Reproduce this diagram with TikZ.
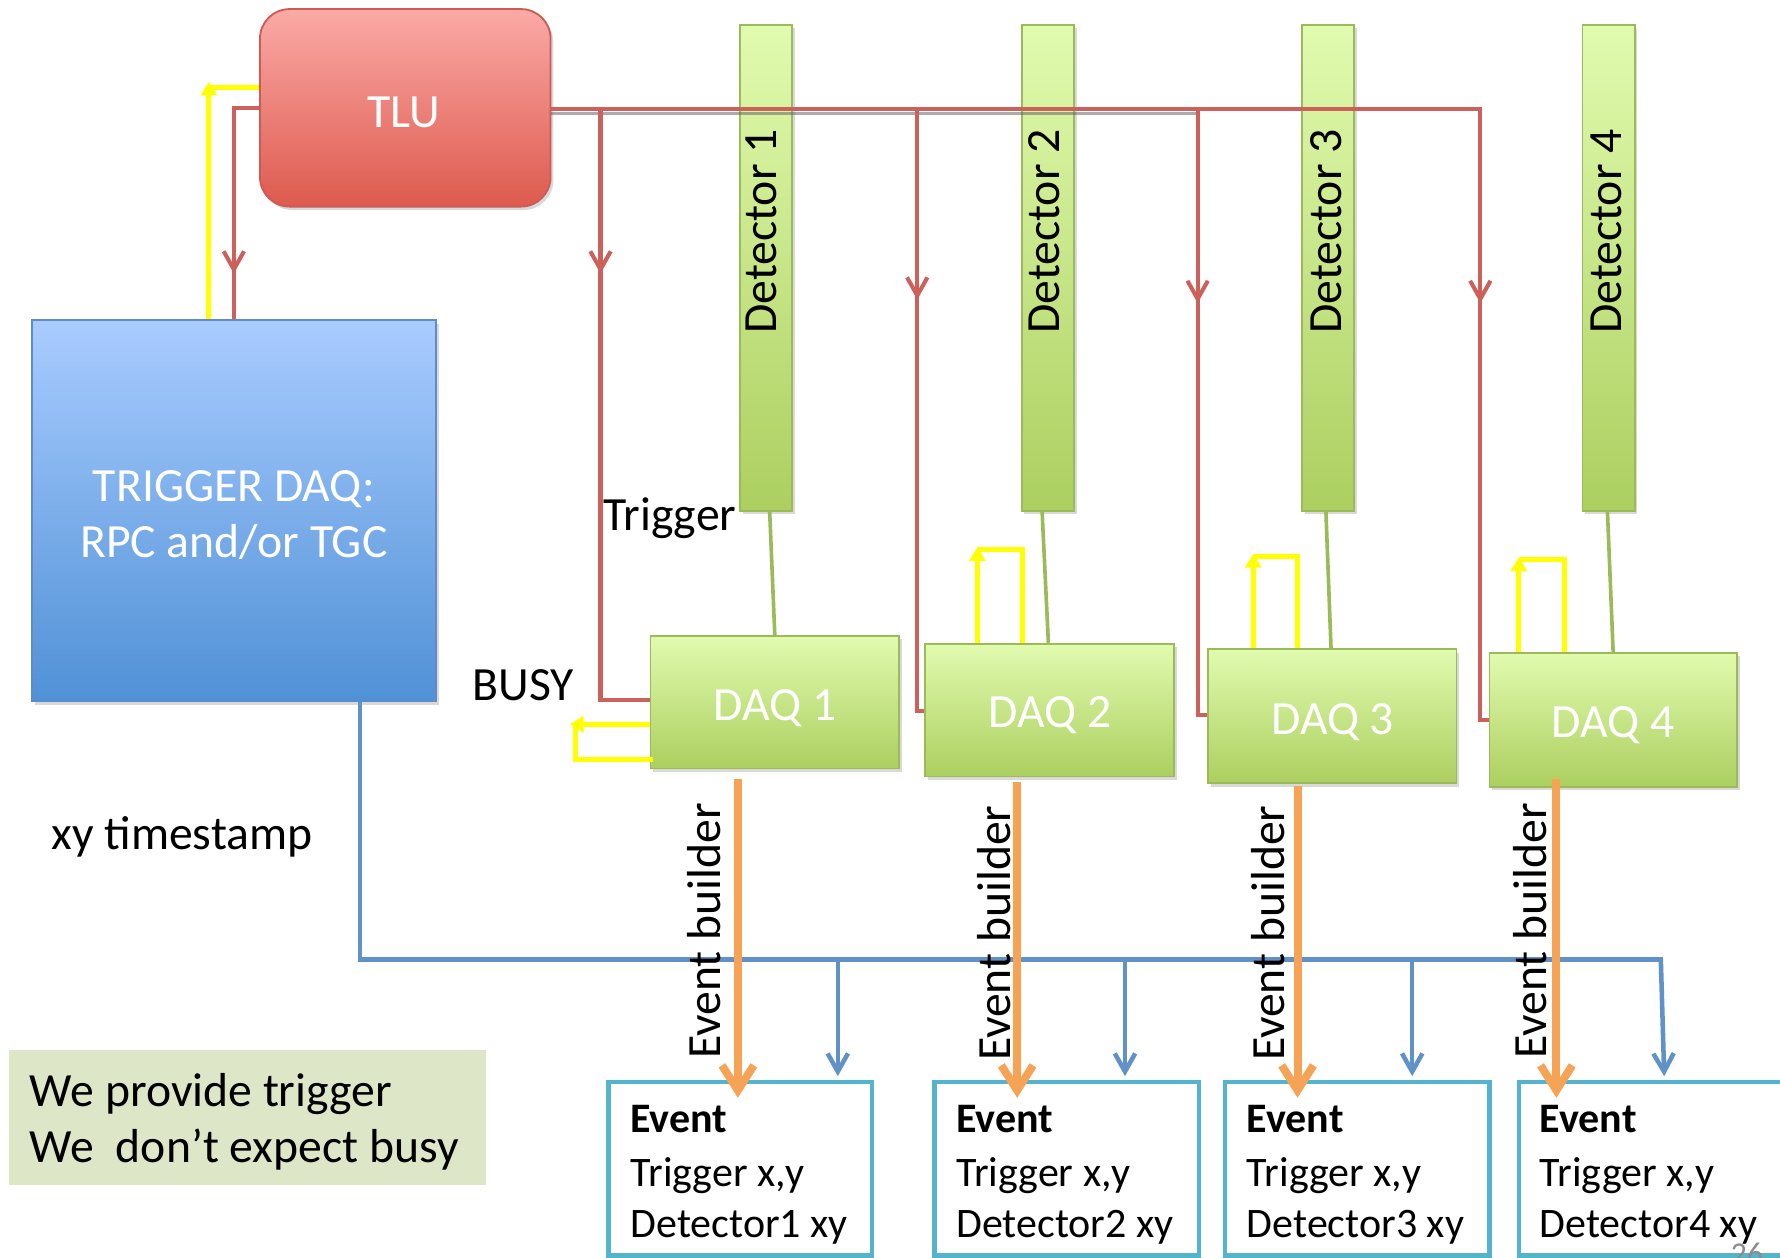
\documentclass[tikz,border=0pt]{standalone}
\usepackage{fontspec}
\setmainfont{Carlito}
\usetikzlibrary{arrows.meta,fit,shadows}
\definecolor{redl}{RGB}{204,96,91}
\definecolor{redtop}{RGB}{251,170,166}
\definecolor{redbot}{RGB}{221,90,78}
\definecolor{redborder}{RGB}{205,90,85}
\definecolor{bluetop}{RGB}{169,204,255}
\definecolor{bluebot}{RGB}{80,145,214}
\definecolor{blueborder}{RGB}{95,140,200}
\definecolor{greentop}{RGB}{225,251,175}
\definecolor{greenbot}{RGB}{172,207,96}
\definecolor{greenborder}{RGB}{155,187,89}
\definecolor{bluel}{RGB}{96,146,200}
\definecolor{orangel}{RGB}{247,163,85}
\definecolor{cyanb}{RGB}{84,180,206}
\definecolor{notefill}{RGB}{222,230,200}
\definecolor{yel}{RGB}{255,255,0}
\newcommand\fntL{\fontsize{21}{25}\selectfont}
\newcommand\fntE{\fontsize{18.5}{22}\selectfont}
\newcommand\fntP{\fontsize{14}{16}\selectfont}
\begin{document}
\begin{tikzpicture}[x=0.5pt,y=-0.5pt,
  shd/.style={drop shadow={shadow xshift=1.2pt,shadow yshift=-1.5pt,opacity=0.3}},
  tlubox/.style={draw=redborder,line width=0.8pt,top color=redtop,bottom color=redbot,rounded corners=13pt,inner sep=0pt,shd},
  tdaqbox/.style={draw=blueborder,line width=0.8pt,top color=bluetop,bottom color=bluebot,inner sep=0pt,shd},
  detbox/.style={draw=greenborder,line width=0.8pt,top color=greentop,bottom color=greenbot,inner sep=0pt,shd},
  evbox/.style={draw=cyanb,line width=2pt,fill=white,inner sep=0pt},
  notebox/.style={fill=notefill,inner sep=0pt},
  wtxt/.style={text=white,font=\fntL,inner sep=0pt,anchor=base},
  btxt/.style={text=black,font=\fntL,inner sep=0pt,anchor=base west},
  vtxt/.style={font=\fntL,inner sep=0pt,rotate=90},
  etxt/.style={font=\fntE,inner sep=0pt,anchor=base west},
  redw/.style={draw=redl,line width=1.8pt},
  redtip/.style={redw,-{Straight Barb[length=8pt,width=9pt]}},
  bluew/.style={draw=bluel,line width=2pt},
  bluetip/.style={bluew,-{Straight Barb[length=8pt,width=9pt]}},
  orngtip/.style={draw=orangel,line width=3.5pt,-{Straight Barb[length=11pt,width=14pt]}},
  yelw/.style={draw=yel,line width=2.2pt},
  yeltip/.style={yelw,-{Triangle[length=6pt,width=7pt]}},
  grnw/.style={draw=greenborder,line width=1.6pt}
]
\useasboundingbox (0,0) rectangle (1568,1108);

% ---------- boxes ----------
\node[tlubox,fit={(229,8) (485,182)}] (tlu) {};
\node[tdaqbox,fit={(28,282) (384,618)}] (tdaq) {};
\node[detbox,fit={(652,22) (698,450)}] (det1) {};
\node[detbox,fit={(900,22) (946,450)}] (det2) {};
\node[detbox,fit={(1147,22) (1193,450)}] (det3) {};
\node[detbox,fit={(1394,22) (1440,450)}] (det4) {};
\node[detbox,fit={(573,560) (792,677)}] (daq1) {};
\node[detbox,fit={(815,567) (1034,684)}] (daq2) {};
\node[detbox,fit={(1064,572) (1283,690)}] (daq3) {};
\node[detbox,fit={(1312,575) (1530,693)}] (daq4) {};
\node[evbox,fit={(536,953) (768,1106)}] (ev1) {};
\node[evbox,fit={(823,953) (1056,1106)}] (ev2) {};
\node[evbox,fit={(1079,953) (1312,1106)}] (ev3) {};
\node[evbox,fit={(1338,953) (1574,1106)}] (ev4) {};
\node[notebox,fit={(8,925) (428,1044)}] (note) {};

% ---------- box texts ----------
\node[wtxt] (tlut) at (356,112) {TLU};
\node[wtxt] (tdaqa) at (206,442) {TRIGGER DAQ:};
\node[wtxt] (tdaqb) at (206,491) {RPC and/or TGC};
\node[vtxt] (det1t) at (671,204) {Detector 1};
\node[vtxt] (det2t) at (920,204) {Detector 2};
\node[vtxt] (det3t) at (1168,204) {Detector 3};
\node[vtxt] (det4t) at (1415,204) {Detector 4};
\node[wtxt] (daq1t) at (683,635) {DAQ 1};
\node[wtxt] (daq2t) at (925,641) {DAQ 2};
\node[wtxt] (daq3t) at (1174,647) {DAQ 3};
\node[wtxt] (daq4t) at (1421,650) {DAQ 4};
\foreach \i/\x in {1/555,2/842,3/1098,4/1356}{
  \node[etxt,font=\fntE\bfseries] (ev\i a) at (\x,998) {Event};
  \node[etxt] (ev\i b) at (\x,1045) {Trigger x,y};
  \node[etxt] (ev\i c) at (\x,1090) {Detector\i{} xy};
}
\node[btxt] (note1) at (26,975) {We provide trigger};
\node[btxt] (note2) at (26,1024) {We\ \ don’t expect busy};
\node[anchor=base,inner sep=0pt,font=\fntP,text=black!45] (pg) at (1539,1114) {26};

% ---------- blue timestamp lines ----------
\draw[bluew] (tdaq.south -| 317,0) -- (317,845) -- (1465,845);
\draw[bluetip] (738,845) -- ([yshift=1.5pt]ev1.north -| 738,0);
\draw[bluetip] (991,845) -- ([yshift=1.5pt]ev2.north -| 991,0);
\draw[bluetip] (1244,845) -- ([yshift=1.5pt]ev3.north -| 1244,0);
\draw[bluetip] (1463,845) -- ([yshift=1.5pt]ev4.north -| 1466,0);

% ---------- labels ----------
\node[btxt] (trig) at (531,467) {Trigger};
\node[btxt] (busy) at (416,617) {BUSY};
\node[btxt] (xyts) at (45,748) {xy timestamp};
\node[vtxt] (eb1) at (620,820) {Event builder};
\node[vtxt] (eb2) at (876,822) {Event builder};
\node[vtxt] (eb3) at (1117,822) {Event builder};
\node[vtxt] (eb4) at (1348,820) {Event builder};

% ---------- event builder arrows ----------
\draw[orngtip] ([yshift=-4pt]daq1.south -| 650,0) -- ([yshift=-8pt]ev1.north -| 650,0);
\draw[orngtip] ([yshift=-2pt]daq2.south -| 896,0) -- ([yshift=-8pt]ev2.north -| 896,0);
\draw[orngtip] ([yshift=-1pt]daq3.south -| 1143,0) -- ([yshift=-8pt]ev3.north -| 1143,0);
\draw[orngtip] ([yshift=4pt]daq4.south -| 1371,0) -- ([yshift=-8pt]ev4.north -| 1371,0);

% ---------- detector to DAQ ----------
\draw[grnw] ([xshift=1.5pt]det1.south) -- (daq1.north);
\draw[grnw] ([xshift=-2.5pt]det2.south) -- ([xshift=-0.5pt]daq2.north);
\draw[grnw] ([xshift=-1pt]det3.south) -- ([xshift=-0.5pt]daq3.north);
\draw[grnw] ([xshift=-0.5pt]det4.south) -- (daq4.north);

% ---------- red trigger lines ----------
\draw[black!60,line width=1.5pt,opacity=0.55] (tlu.east |- 0,100) -- (1057,100);
\draw[redw] (tlu.east |- 0,96) -- (529,96) -- (529,617) -- (daq1.west |- 0,617);
\draw[redw] (tlu.east |- 0,96) -- (808,96) -- (808,626) -- (daq2.west |- 0,626);
\draw[redw] (tlu.east |- 0,96) -- (1055,96) -- (1055,630) -- (daq3.west |- 0,630);
\draw[redw] (tlu.east |- 0,96) -- (1304,96) -- (1304,634) -- (daq4.west |- 0,634);
\draw[redtip] (529,200) -- (529,241);
\draw[redtip] (808,220) -- (808,264);
\draw[redtip] (1055,220) -- (1055,267);
\draw[redtip] (1304,220) -- (1304,267);
\draw[redw] (tlu.west |- 0,95) -- (206,95) -- (tdaq.north -| 206,0);
\draw[redtip] (206,200) -- (206,241);

% ---------- yellow busy lines ----------
\draw[yelw] (tlu.west |- 0,77) -- (184,77);
\draw[yeltip] (tdaq.north -| 184,0) -- (184,72);
\draw[yelw] (575,669) -- (507,669) -- (507,638);
\draw[yeltip] (daq1.west |- 0,638) -- (502,638);
\draw[yelw] (daq2.north -| 901,0) -- (901,484) -- (861,484);
\draw[yeltip] (daq2.north -| 861,0) -- (861,482);
\draw[yelw] (daq3.north -| 1143,0) -- (1143,490) -- (1104,490);
\draw[yeltip] (daq3.north -| 1104,0) -- (1104,488);
\draw[yelw] (daq4.north -| 1378,0) -- (1378,493) -- (1338,493);
\draw[yeltip] (daq4.north -| 1338,0) -- (1338,491);
\end{tikzpicture}
\end{document}
